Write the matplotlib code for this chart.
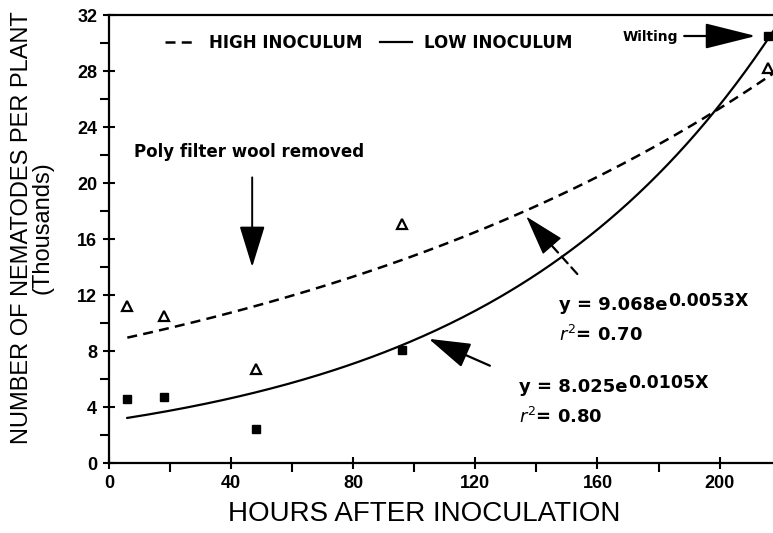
import numpy as np
import matplotlib
matplotlib.use("Agg")
import matplotlib.pyplot as plt

# measured points (hours, thousands of nematodes)
hours = [6, 18, 48, 96, 216]
high_counts = [11.2, 10.5, 6.7, 17.1, 28.2]
low_counts = [4.6, 4.7, 2.4, 8.1, 30.5]

# fitted curves as drawn in the figure (a * exp(k * x))
high_fit = (8.67, 0.00536)
low_fit = (3.02, 0.01068)
fit_range = (6, 218)

high_eq = ('y = 9.068e', '0.0053X', '0.70')
low_eq = ('y = 8.025e', '0.0105X', '0.80')

xticks = [0, 40, 80, 120, 160, 200]
yticks = [0, 4, 8, 12, 16, 20, 24, 28, 32]

plt.rcParams['font.family'] = ['Liberation Sans', 'DejaVu Sans']
plt.rcParams['mathtext.fontset'] = 'dejavusans'

fig = plt.figure(figsize=(7.73, 5.33), dpi=100)
ax = fig.add_axes([109/773, 70/533, 664/773, 448/533])

xs = np.linspace(fit_range[0], fit_range[1], 200)
hl, = ax.plot(xs, high_fit[0]*np.exp(high_fit[1]*xs), color='black', lw=1.8,
              linestyle=(0, (4, 2.5)), label='HIGH INOCULUM')
ll, = ax.plot(xs, low_fit[0]*np.exp(low_fit[1]*xs), color='black', lw=1.6,
              label='LOW INOCULUM')
ax.plot(hours, high_counts, linestyle='none', marker='^', ms=7, mfc='white',
        mec='black', mew=1.6)
ax.plot(hours, low_counts, linestyle='none', marker='s', ms=5.5, color='black')

ax.set_xlim(0, 217.5)
ax.set_ylim(0, 32)
ax.set_xticks(xticks)
ax.set_yticks(yticks)
ax.set_xticks(np.arange(20, 220, 40), minor=True)
ax.set_yticks(np.arange(2, 32, 4), minor=True)
ax.tick_params(which='major', direction='inout', length=9, width=1.5,
               labelsize=13, pad=4)
ax.tick_params(which='minor', direction='out', length=6.5, width=1.5)
for lab in ax.get_xticklabels() + ax.get_yticklabels():
    lab.set_fontweight('bold')
for s in ['left', 'bottom', 'top']:
    ax.spines[s].set_linewidth(1.6)
ax.spines['right'].set_visible(False)

ax.set_xlabel('HOURS AFTER INOCULATION', fontsize=20)
ax.xaxis.set_label_coords(0.475, -0.085)
ax.set_ylabel('NUMBER OF NEMATODES PER PLANT\n(Thousands)', fontsize=17,
              linespacing=0.95)
ax.yaxis.set_label_coords(-0.083, 0.525)

leg = ax.legend(handles=[hl, ll], loc='center left', bbox_to_anchor=(0.085, 0.937),
                ncol=2, frameon=False, handlelength=1.9, handletextpad=0.7,
                columnspacing=1.1, borderaxespad=0, borderpad=0,
                prop={'family': 'DejaVu Sans', 'weight': 'bold', 'size': 12})

bold = dict(family='DejaVu Sans', fontweight='bold')
head = '-|>,head_length=2.6,head_width=0.8'

ax.annotate('', xy=(46.9, 13.8), xytext=(46.9, 20.6),
            arrowprops=dict(arrowstyle=head, mutation_scale=10, color='black', lw=1.4))
ax.text(45.9, 22.2, 'Poly filter wool removed', ha='center', va='center',
        fontsize=12, **bold)

ax.text(168.2, 30.4, 'Wilting', ha='left', va='center', fontsize=10, **bold)
ax.annotate('', xy=(212.8, 30.5), xytext=(187.5, 30.5),
            arrowprops=dict(arrowstyle='-|>,head_length=3.2,head_width=0.8',
                            mutation_scale=10, color='black', lw=1.6))

# high inoculum arrow: dashed shaft, solid head
ax.annotate('', xy=(143.5, 15.9), xytext=(153.4, 13.5),
            arrowprops=dict(arrowstyle='-', color='black', lw=1.6,
                            linestyle=(0, (4, 2.5)), shrinkA=0, shrinkB=0))
ax.annotate('', xy=(136.7, 17.6), xytext=(143.5, 15.9),
            arrowprops=dict(arrowstyle=head, mutation_scale=10, color='black',
                            lw=1.0, shrinkA=0, shrinkB=0))
ax.annotate('', xy=(103.9, 8.95), xytext=(125.6, 6.87),
            arrowprops=dict(arrowstyle=head, mutation_scale=10, color='black', lw=1.6))


def equation(x, y, parts):
    base = ax.text(x, y, parts[0], ha='left', va='center', fontsize=13, **bold)
    ax.annotate(parts[1], xy=(1, 0.5), xycoords=base, xytext=(0, 3),
                textcoords='offset points', ha='left', va='center',
                fontsize=12.5, **bold)
    ax.text(x, y - 2.15, '$r^2$= ' + parts[2], ha='left', va='center',
            fontsize=13, **bold)


equation(147.5, 11.3, high_eq)
equation(134.4, 5.45, low_eq)

fig.savefig('out.png', dpi=100)
